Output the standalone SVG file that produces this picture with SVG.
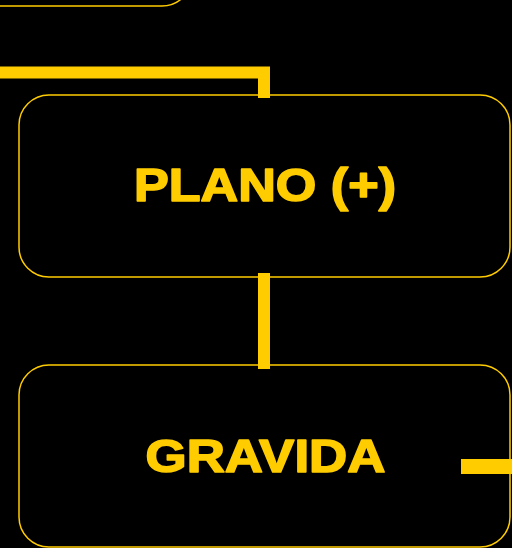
<svg xmlns="http://www.w3.org/2000/svg" width="512" height="548" viewBox="0 0 512 548">
<style>
.node{fill:#000;stroke:#FFCC00;stroke-width:1.5}
.lbl{fill:#FFCC00;stroke:#FFCC00;stroke-width:1.6;stroke-linejoin:round;font-family:"Liberation Sans",Arial,sans-serif;font-weight:bold;font-size:46px;text-anchor:middle}
.conn{fill:none;stroke:#FFCC00;stroke-width:12;stroke-linecap:butt}
</style>
<rect width="512" height="548" fill="#000"/>
<g id="node-top">
<rect class="node" x="-300" y="-200" width="492" height="206" rx="30"/>
</g>
<g id="node-plano">
<rect class="node" x="19" y="95" width="491" height="182" rx="30"/>
<text class="lbl" x="265" y="201" textLength="262" lengthAdjust="spacingAndGlyphs">PLANO (+)</text>
</g>
<g id="node-gravida">
<rect class="node" x="19" y="365" width="491" height="182" rx="30"/>
<text class="lbl" x="265.5" y="472" textLength="240" lengthAdjust="spacingAndGlyphs">GRAVIDA</text>
</g>
<g id="connectors">
<polyline class="conn" points="0,72.5 264,72.5 264,98"/>
<line class="conn" x1="264" y1="273" x2="264" y2="369"/>
<line class="conn" x1="461" y1="466.5" x2="512" y2="466.5" style="stroke-width:15"/>
</g>
</svg>
